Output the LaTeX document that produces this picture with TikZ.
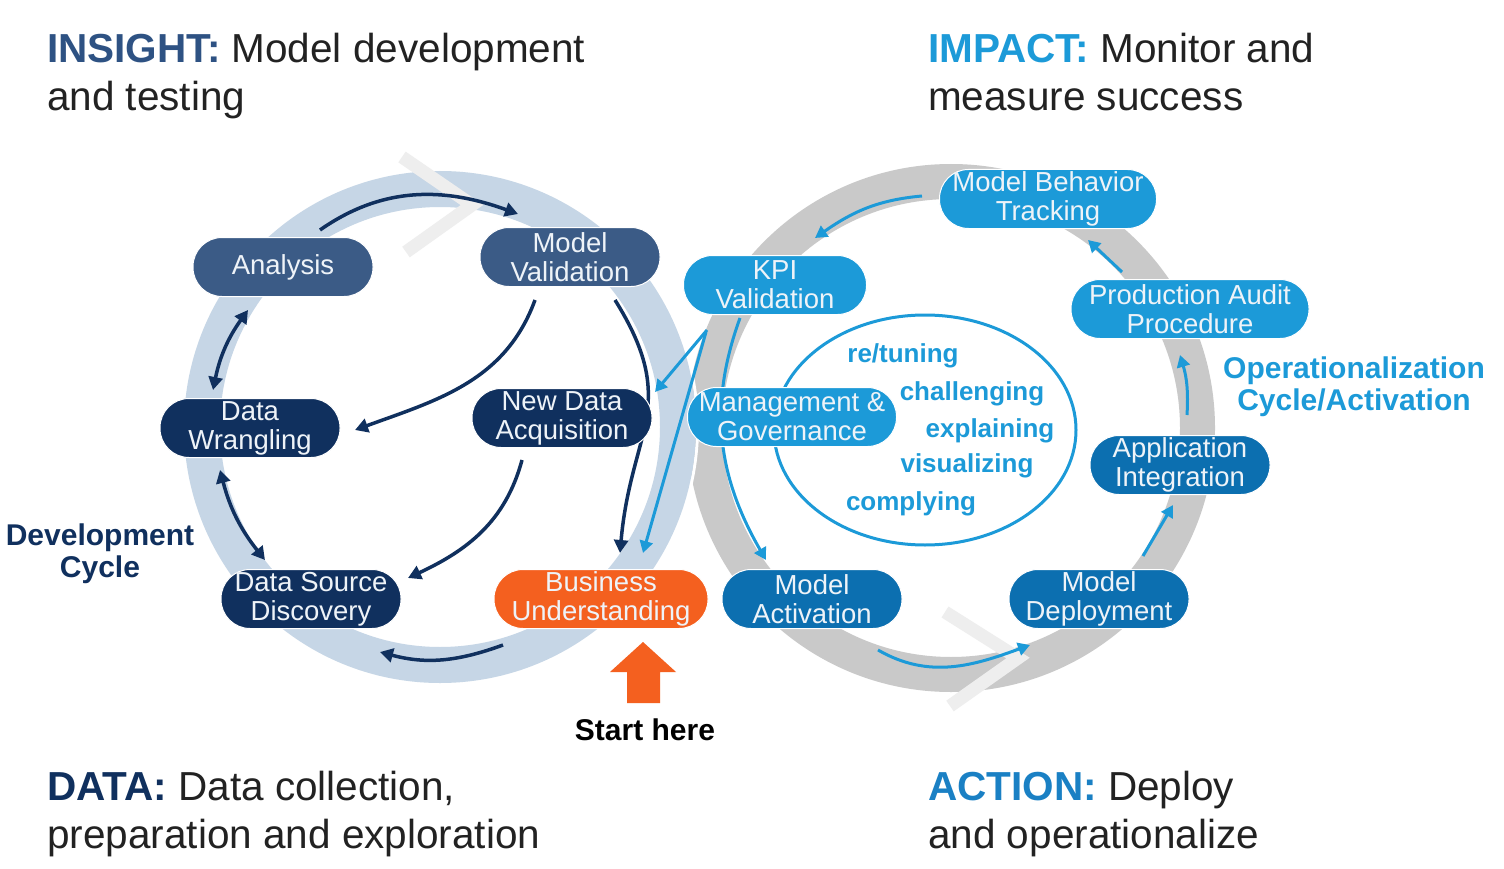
\documentclass[tikz,border=0pt]{standalone}
\usepackage{fontspec}
\setmainfont{Liberation Sans}
\usetikzlibrary{arrows.meta,calc}
\pgfdeclarelayer{rings}
\pgfdeclarelayer{links}
\pgfsetlayers{rings,links,main}
\definecolor{cA}{HTML}{3B5B86}
\definecolor{cD}{HTML}{10305E}
\definecolor{cO}{HTML}{F4601F}
\definecolor{cB}{HTML}{1C9AD8}
\definecolor{cM}{HTML}{0C6FB0}
\definecolor{ringL}{HTML}{C6D6E6}
\definecolor{ringR}{HTML}{C9C9C9}
\definecolor{chev}{HTML}{EEEEEE}
\definecolor{txt}{HTML}{222222}
\definecolor{hIns}{HTML}{2E5283}
\definecolor{hAct}{HTML}{1A80C4}
\definecolor{ntext}{HTML}{EEF3F8}
\begin{document}
\begin{tikzpicture}[x=1pt,y=1pt,
  box/.style={rounded corners=29pt, minimum height=59pt, minimum width=180pt, inner xsep=4pt, inner ysep=1pt, align=center, text=ntext, font=\fontsize{27.5}{29}\selectfont, draw=white, line width=1pt},
  boxA/.style={box, fill=cA},
  boxD/.style={box, fill=cD},
  boxO/.style={box, fill=cO},
  boxB/.style={box, fill=cB},
  boxM/.style={box, fill=cM},
  darr/.style={draw=cD, line width=3.5pt, -{Triangle[length=13pt,width=14pt]}},
  ddarr/.style={draw=cD, line width=3.5pt, {Triangle[length=13pt,width=14pt]}-{Triangle[length=13pt,width=14pt]}},
  barr/.style={draw=cB, line width=3pt, -{Triangle[length=12pt,width=13pt]}},
  head/.style={anchor=base west, inner sep=0pt, align=left, font=\fontsize{40.5}{48}\selectfont, text=txt},
  eword/.style={inner sep=0pt, font=\fontsize{26}{28}\selectfont\bfseries, text=cB},
  cyc/.style={inner sep=0pt, align=center, font=\fontsize{30}{32}\selectfont\bfseries},
  chevron/.style={draw=chev, line width=13pt, line join=miter},
]
\useasboundingbox (0,0) rectangle (1504,-869);

\begin{pgfonlayer}{rings}
\fill[white] (0,0) rectangle (1504,-869);
\fill[ringR, even odd rule] (951,-428) circle[radius=264pt] (951,-428) circle[radius=229pt];
\draw[white, line width=3pt] (440,-427) circle[radius=257.5pt];
\fill[ringL, even odd rule] (440,-427) circle[radius=256pt] (440,-427) circle[radius=220pt];
\draw[chevron] (402,-157) -- (472,-205) -- (406,-252);
\draw[chevron] (945,-612) -- (1018,-658) -- (950,-706);
\draw[cB, line width=3pt] (925,-430) ellipse[x radius=151pt, y radius=115pt];
\end{pgfonlayer}

% ellipse words
\node[eword] (e1) at (903,-356) {re/tuning};
\node[eword] (e2) at (972,-394) {challenging};
\node[eword] (e3) at (990,-431) {explaining};
\node[eword] (e4) at (967,-466) {visualizing};
\node[eword] (e5) at (911,-504) {complying};

% nodes left
\node[boxA] (ana) at (283,-267) {Analysis};
\node[boxA] (mv) at (570,-257) {Model\\Validation};
\node[boxD] (dw) at (250,-428) {Data\\Wrangling};
\node[boxD] (nda) at (562,-418) {New Data\\Acquisition};
\node[boxD] (dsd) at (311,-599) {Data Source\\Discovery};
\node[boxO, minimum width=214pt] (bu) at (601,-599) {Business\\Understanding};

% nodes right
\node[boxB, minimum width=217pt] (mbt) at (1048,-199) {Model Behavior\\Tracking};
\node[boxB, minimum width=183pt] (kpi) at (775,-285) {KPI\\Validation};
\node[boxB, minimum width=238pt] (pap) at (1190,-309) {Production Audit\\Procedure};
\node[boxB, minimum width=209pt] (mg) at (792,-417) {Management \&\\Governance};
\node[boxM] (ai) at (1180,-465) {Application\\Integration};
\node[boxM] (ma) at (812,-599) {Model\\Activation};
\node[boxM] (md) at (1099,-599) {Model\\Deployment};

\begin{pgfonlayer}{links}
% dark arrows
\draw[darr] ([shift={(37,37)}]ana.center) to[out=35,in=160] ([shift={(-52,43)}]mv.center);
\draw[ddarr] ([shift={(-35,-43)}]ana.center) to[bend right=12] ([shift={(-37,38)}]dw.center);
\draw[ddarr] ([shift={(-30,-42)}]dw.center) to[bend right=12] ([shift={(-46,39)}]dsd.center);
\draw[darr] ([shift={(-35,-43)}]mv.center) to[out=-110,in=20] ([shift={(105,-2)}]dw.center);
\draw[darr] ([shift={(45,-43)}]mv.center) to[out=-58,in=85,looseness=1.25] ([shift={(19,46)}]bu.center);
\draw[darr] ([shift={(-40,-42)}]nda.center) to[out=-105,in=25] ([shift={(97,21)}]dsd.center);
\draw[darr] ([shift={(-98,-46)}]bu.center) to[out=-160,in=-15] ([shift={(69,-53)}]dsd.center);
% blue arrows
\draw[barr] ([shift={(-126,3)}]mbt.center) to[out=185,in=35] ([shift={(40,47)}]kpi.center);
\draw[barr] ([shift={(-68,37)}]pap.center) -- ([shift={(40,-41)}]mbt.center);
\draw[barr] ([shift={(7,50)}]ai.center) to[bend right=10] ([shift={(-10,-46)}]pap.center);
\draw[barr] ([shift={(44,43)}]md.center) -- ([shift={(-7,-40)}]ai.center);
\draw[barr] ([shift={(66,-51)}]ma.center) to[out=-30,in=-160] ([shift={(-69,-46)}]md.center);
\draw[barr] ([shift={(-35,-33)}]kpi.center) to[out=-110,in=120] ([shift={(-46,39)}]ma.center);
\draw[barr] ([shift={(-68,-45)}]kpi.center) -- ([shift={(93,26)}]nda.center);
\draw[barr] ([shift={(-69,-47)}]kpi.center) -- ([shift={(42,46)}]bu.center);
\end{pgfonlayer}

% start arrow
\fill[cO] (643,-642) -- (676,-672) -- (660,-672) -- (660,-703) -- (627,-703) -- (627,-672) -- (610,-672) -- cycle;
\node[inner sep=0pt, font=\fontsize{30}{32}\selectfont\bfseries, text=black, anchor=base] (start) at (645,-740) {Start here};

% headings (base = baseline of the last line)
\node[head] (hins) at (47,-111) {\textcolor{hIns}{\bfseries INSIGHT:} Model development\\and testing};
\node[head] (himp) at (928,-111) {\textcolor{cB}{\bfseries IMPACT:} Monitor and\\measure success};
\node[head] (hdat) at (47,-848) {\textcolor{cD}{\bfseries DATA:} Data collection,\\preparation and exploration};
\node[head] (hact) at (928,-848) {\textcolor{hAct}{\bfseries ACTION:} Deploy\\and operationalize};

% cycle labels
\node[cyc, text=cD] (dev) at (100,-554) {Development\\Cycle};
\node[cyc, text=cB] (ops) at (1354,-387) {Operationalization\\Cycle/Activation};
\end{tikzpicture}
\end{document}
